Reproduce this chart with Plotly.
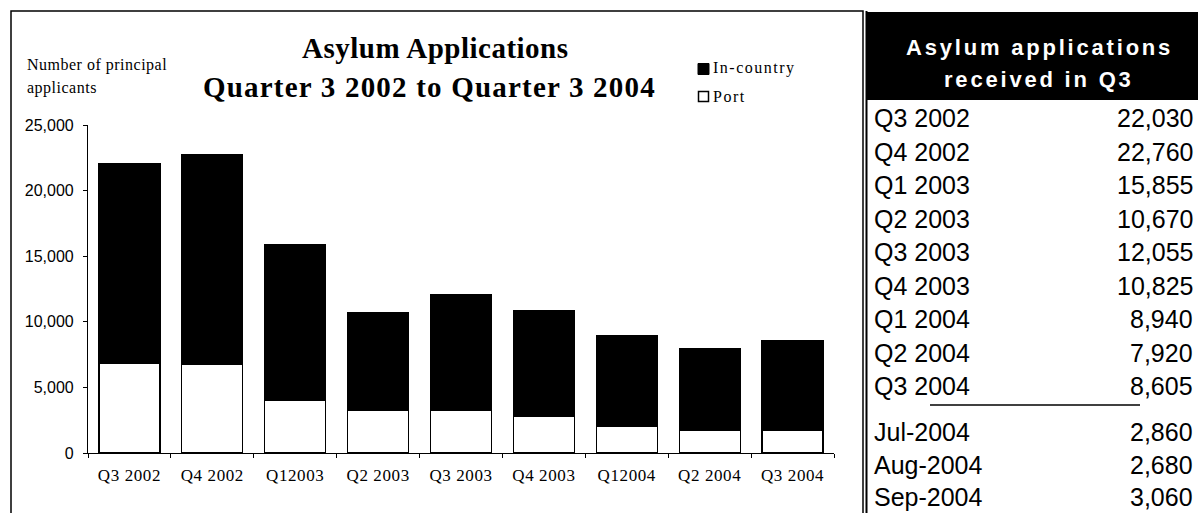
import plotly.graph_objects as go

# ---------------- data ----------------
categories = ["Q3 2002", "Q4 2002", "Q12003", "Q2 2003", "Q3 2003",
              "Q4 2003", "Q12004", "Q2 2004", "Q3 2004"]
port = [6850, 6780, 4035, 3225, 3225, 2810, 2000, 1700, 1700]
in_country = [15180, 15980, 11820, 7445, 8830, 8015, 6940, 6220, 6905]

y_ticks = [0, 5000, 10000, 15000, 20000, 25000]

table_title = ["Asylum applications", "received in Q3"]
table_labels = ["Q3 2002", "Q4 2002", "Q1 2003", "Q2 2003", "Q3 2003",
                "Q4 2003", "Q1 2004", "Q2 2004", "Q3 2004"]
table_values = [22030, 22760, 15855, 10670, 12055, 10825, 8940, 7920, 8605]
month_labels = ["Jul-2004", "Aug-2004", "Sep-2004"]
month_values = [2860, 2680, 3060]

title_lines = ["Asylum Applications", "Quarter 3 2002 to Quarter 3 2004"]
ytitle_lines = ["Number of principal", "applicants"]
legend_names = ["In-country", "Port"]

# ---------------- geometry helpers ----------------
W, H = 1198, 513
L, R, T, B = 88, 364, 125, 60
PW, PH = W - L - R, H - T - B


def px(x):
    return (x - L) / PW


def py(y):
    return (H - B - y) / PH


SERIF = "Liberation Serif, Times New Roman, serif"
SANS = "Liberation Sans, Arial, sans-serif"


def spaced(txt, sp):
    return f'<span style="letter-spacing:{sp}px">{txt}</span>'


fig = go.Figure()
fig.add_trace(go.Bar(x=categories, y=port, name=legend_names[1],
                     marker=dict(color="white", line=dict(color="black", width=1.2)),
                     showlegend=False))
fig.add_trace(go.Bar(x=categories, y=in_country, name=legend_names[0],
                     marker=dict(color="black", line=dict(color="black", width=1.2)),
                     showlegend=False))

shapes = []
ann = []

# chart frame
shapes.append(dict(type="rect", xref="paper", yref="paper",
                   x0=px(11), x1=px(863), y0=py(11), y1=py(530),
                   line=dict(color="black", width=1.5), fillcolor="rgba(0,0,0,0)", layer="below"))
# table left border (second line of double rule)
shapes.append(dict(type="line", xref="paper", yref="paper",
                   x0=px(866.5), x1=px(866.5), y0=py(11), y1=py(530),
                   line=dict(color="black", width=2)))
# table header block
shapes.append(dict(type="rect", xref="paper", yref="paper",
                   x0=px(866), x1=px(1205), y0=py(12), y1=py(100),
                   line=dict(width=0), fillcolor="black"))
# underline under Q3 2004
shapes.append(dict(type="line", xref="paper", yref="paper",
                   x0=px(930), x1=px(1140), y0=py(405), y1=py(405),
                   line=dict(color="black", width=1.5)))

# legend squares
shapes.append(dict(type="rect", xref="paper", yref="paper",
                   x0=px(698), x1=px(709), y0=py(63.5), y1=py(74.5),
                   line=dict(color="black", width=1), fillcolor="black"))
shapes.append(dict(type="rect", xref="paper", yref="paper",
                   x0=px(698.5), x1=px(708.5), y0=py(91.5), y1=py(101.5),
                   line=dict(color="black", width=1.5), fillcolor="white"))
ann.append(dict(text=spaced(legend_names[0], 1.5), x=px(711), y=py(68), xanchor="left", yanchor="middle",
                font=dict(family=SERIF, size=16, color="black")))
ann.append(dict(text=spaced(legend_names[1], 1.5), x=px(711), y=py(97), xanchor="left", yanchor="middle",
                font=dict(family=SERIF, size=16, color="black")))

# main title
ann.append(dict(text="<b>" + spaced(title_lines[0], 0.5) + "</b>", x=px(435), y=py(48),
                xanchor="center", yanchor="middle",
                font=dict(family=SERIF, size=29, color="black")))
ann.append(dict(text="<b>" + spaced(title_lines[1], 1.2) + "</b>", x=px(429), y=py(87),
                xanchor="center", yanchor="middle",
                font=dict(family=SERIF, size=29, color="black")))

# y axis title
ann.append(dict(text=spaced(ytitle_lines[0], 0.5), x=px(25), y=py(65), xanchor="left", yanchor="middle",
                font=dict(family=SERIF, size=16, color="black")))
ann.append(dict(text=spaced(ytitle_lines[1], 0.5), x=px(25), y=py(88), xanchor="left", yanchor="middle",
                font=dict(family=SERIF, size=16, color="black")))

# table header
for i, t in enumerate(table_title):
    ann.append(dict(text="<b>" + spaced(t, 2.8) + "</b>", x=px(1039), y=py(47 + 32 * i),
                    xanchor="center", yanchor="middle",
                    font=dict(family=SANS, size=22, color="white")))

# table rows
row_h = 33.5
for i, (lab, val) in enumerate(zip(table_labels, table_values)):
    yc = 118 + i * row_h
    ann.append(dict(text=lab, x=px(872), y=py(yc), xanchor="left", yanchor="middle",
                    font=dict(family=SANS, size=25, color="black")))
    ann.append(dict(text=f"{val:,}", x=px(1195), y=py(yc), xanchor="right", yanchor="middle",
                    font=dict(family=SANS, size=25, color="black")))
month_h = 32.5
for i, (lab, val) in enumerate(zip(month_labels, month_values)):
    yc = 432 + i * month_h
    ann.append(dict(text=lab, x=px(872), y=py(yc), xanchor="left", yanchor="middle",
                    font=dict(family=SANS, size=25, color="black")))
    ann.append(dict(text=f"{val:,}", x=px(1195), y=py(yc), xanchor="right", yanchor="middle",
                    font=dict(family=SANS, size=25, color="black")))

for a in ann:
    a.update(xref="paper", yref="paper", showarrow=False)

fig.update_layout(
    width=W, height=H,
    margin=dict(l=L, r=R, t=T, b=B, pad=0),
    paper_bgcolor="white", plot_bgcolor="white",
    barmode="stack", bargap=0.265,
    shapes=shapes, annotations=ann,
    showlegend=False,
    xaxis=dict(type="category", categoryorder="array", categoryarray=categories,
               tickmode="array", tickvals=categories,
               ticktext=[spaced(c, 0.6) for c in categories],
               showline=True, linecolor="black", linewidth=1.2,
               ticks="outside", tickson="boundaries", ticklen=4, tickcolor="black", tickwidth=1.2,
               tickfont=dict(family=SERIF, size=17, color="black"),
               ticklabelstandoff=6,
               showgrid=False, zeroline=False, fixedrange=True),
    yaxis=dict(range=[0, 25000], tickvals=y_ticks, tickformat=",",
               showline=True, linecolor="black", linewidth=1.2,
               ticks="outside", ticklen=4, tickcolor="black", tickwidth=1.2,
               tickfont=dict(family=SANS, size=16, color="black"),
               ticklabelstandoff=6,
               showgrid=False, zeroline=False, fixedrange=True),
)

fig.write_html("out.html", config={"displayModeBar": False},
               post_script="document.body.style.margin='0px';document.body.style.overflow='hidden';")
